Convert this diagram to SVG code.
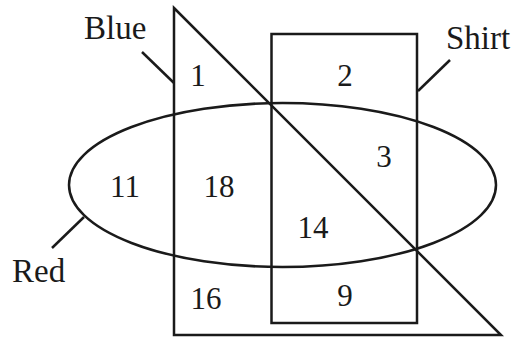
<svg xmlns="http://www.w3.org/2000/svg" width="519" height="339" viewBox="0 0 519 339">
<style>
.s{fill:none;stroke:#1a1a1a;stroke-width:2.5}
.t{font-family:"Liberation Serif",serif;font-size:33px;fill:#1a1a1a}
.n{font-family:"Liberation Serif",serif;font-size:31px;fill:#1a1a1a;text-anchor:middle}
</style>
<rect width="519" height="339" fill="#fff"/>
<g id="blue">
<polygon class="s" points="174,8 501,335 174,335"/>
<text class="t" x="84" y="39">Blue</text>
</g>
<g id="shirt">
<rect class="s" x="271.5" y="34" width="145.5" height="289"/>
<text class="t" x="446" y="49">Shirt</text>
</g>
<g id="red">
<ellipse class="s" cx="282.5" cy="185" rx="213.5" ry="82"/>
<text class="t" x="12" y="282">Red</text>
</g>
<g id="connectors">
<line class="s" x1="142" y1="52" x2="174" y2="83"/>
<line class="s" x1="450" y1="60" x2="418" y2="91"/>
<line class="s" x1="84" y1="217" x2="52" y2="248"/>
</g>
<g id="counts">
<text class="n" x="198" y="86">1</text>
<text class="n" x="345" y="86">2</text>
<text class="n" x="384" y="167">3</text>
<text class="n" x="125" y="197">11</text>
<text class="n" x="219" y="197">18</text>
<text class="n" x="313" y="238">14</text>
<text class="n" x="206" y="309">16</text>
<text class="n" x="345" y="306">9</text>
</g>
</svg>
